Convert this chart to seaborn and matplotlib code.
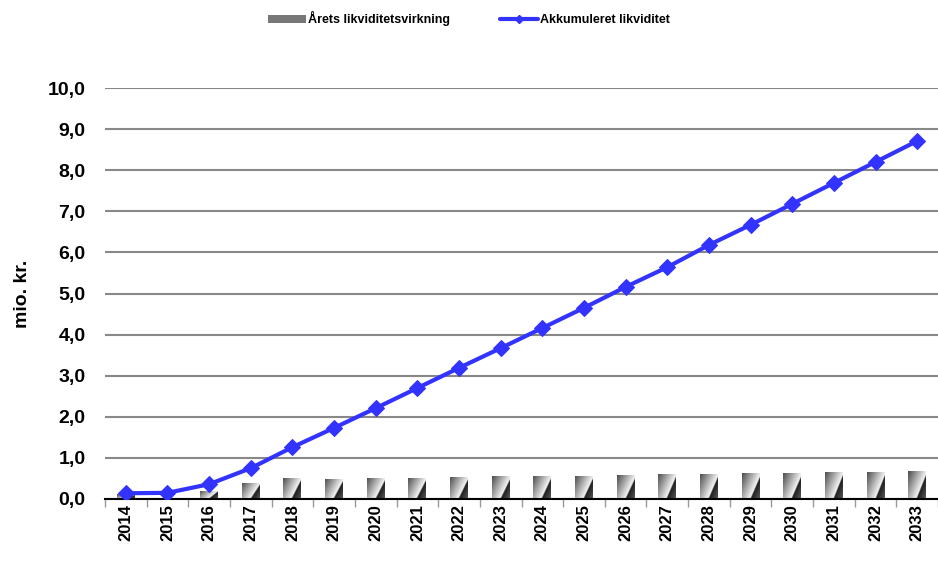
import numpy as np
import pandas as pd
import matplotlib
matplotlib.use("Agg")
import matplotlib.pyplot as plt
import seaborn as sns
from matplotlib.patches import Patch
from matplotlib.lines import Line2D

years = [str(y) for y in range(2014, 2034)]
arets = [0.12, 0.02, 0.20, 0.40, 0.52, 0.49, 0.52, 0.52, 0.54, 0.55,
         0.56, 0.57, 0.58, 0.62, 0.62, 0.63, 0.63, 0.66, 0.66, 0.68]
akkum = [0.14, 0.15, 0.36, 0.75, 1.26, 1.73, 2.21, 2.70, 3.19, 3.67,
         4.16, 4.65, 5.16, 5.64, 6.18, 6.67, 7.18, 7.69, 8.20, 8.71]
yticks = [0, 1, 2, 3, 4, 5, 6, 7, 8, 9, 10]
ytick_labels = ["0,0", "1,0", "2,0", "3,0", "4,0", "5,0", "6,0", "7,0", "8,0", "9,0", "10,0"]

sns.set_style("white")
plt.rcParams["font.family"] = ["Liberation Sans", "DejaVu Sans"]
plt.rcParams["font.weight"] = "bold"
plt.rcParams["text.color"] = "black"
plt.rcParams["axes.labelcolor"] = "black"
plt.rcParams["xtick.color"] = "black"
plt.rcParams["ytick.color"] = "black"

fig = plt.figure(figsize=(9.38, 5.66), dpi=100)
ax = fig.add_axes([105/938, 67/566, 833/938, 411/566])

df = pd.DataFrame({"year": years, "arets": arets, "akkum": akkum})
sns.barplot(data=df, x="year", y="arets", ax=ax, width=0.43, color="#888888",
            edgecolor="none", saturation=1, zorder=2)

# gradient fill for bars
yy, xx = np.mgrid[0:1:80j, 0:1:80j]
d = (0.8 * xx + 0.5 * yy) / 1.3
cmap = matplotlib.colors.LinearSegmentedColormap.from_list(
    "g", [(0.0, "#4a4a4a"), (0.66, "#f5f5f5"), (0.69, "#1e1e1e"), (1.0, "#5a5a5a")])
for p in list(ax.patches):
    x0, y0 = p.get_x(), p.get_y()
    w, h = p.get_width(), p.get_height()
    if h <= 0:
        continue
    im = ax.imshow(d, extent=[x0, x0 + w, y0, y0 + h], cmap=cmap, aspect="auto",
                   zorder=2.5, origin="upper", vmin=0, vmax=1, interpolation="bilinear")
    im.set_clip_path(p)
    p.set_facecolor("none")

sns.lineplot(x=np.arange(len(years)), y=akkum, ax=ax, color="#3333FF", linewidth=3,
             marker="D", markersize=8, markeredgecolor="#3333FF", zorder=4)

ax.set_xlim(-0.5, len(years) - 0.5)
ax.set_ylim(0, 10)
ax.set_xticks(np.arange(len(years)))
ax.set_xticklabels(years, rotation=90, fontsize=12, fontweight="bold")
ax.set_xticks(np.arange(len(years) + 1) - 0.5, minor=True)
ax.tick_params(axis="x", which="major", length=0, pad=4)
ax.tick_params(axis="x", which="minor", length=6, width=1, color="#999999", direction="out", bottom=True)
ax.set_yticks(yticks)
ax.set_yticklabels(ytick_labels, fontsize=14, fontweight="bold")
ax.tick_params(axis="y", length=0, pad=14)
ax.yaxis.grid(True, color="#888888", linewidth=1.5, zorder=0)
ax.set_axisbelow(True)
for s in ["top", "right", "left"]:
    ax.spines[s].set_visible(False)
ax.spines["bottom"].set_color("black")
ax.spines["bottom"].set_linewidth(1.5)
ax.set_xlabel("")
ax.set_ylabel("mio. kr.", fontsize=14, fontweight="bold", labelpad=12)

handles = [Patch(facecolor="#777777", edgecolor="none"),
           Line2D([0], [0], color="#3333FF", linewidth=3, marker="D", markersize=4)]
fig.legend(handles, ["Årets likviditetsvirkning", "Akkumuleret likviditet"],
           loc="upper center", bbox_to_anchor=(0.5, 1.0), ncol=2, frameon=False,
           prop={"size": 9, "weight": "bold"}, handlelength=3, columnspacing=4, handletextpad=0.2)

fig.savefig("out.png", dpi=100)
